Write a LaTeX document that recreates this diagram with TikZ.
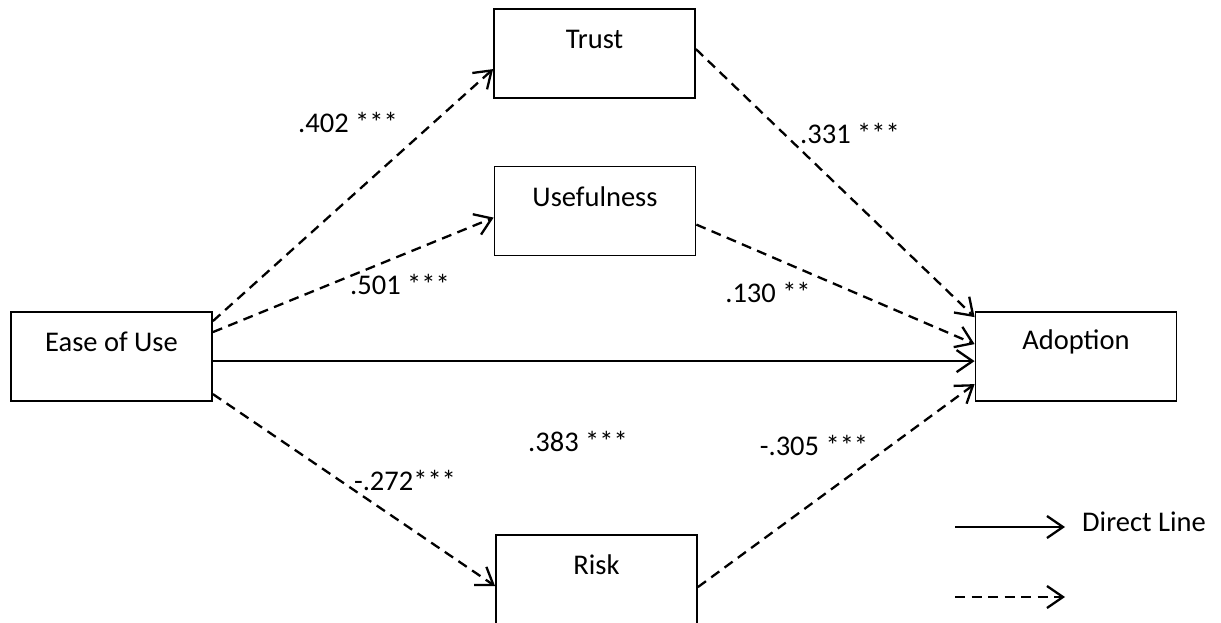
\documentclass[tikz,border=0pt]{standalone}
\usepackage{fontspec}
\setmainfont{Carlito}
\usetikzlibrary{arrows.meta,calc}
\begin{document}
\begin{tikzpicture}[x=1pt,y=-1pt,
  box/.style={draw, line width=1.8pt, minimum width=201pt, minimum height=89pt, inner sep=0pt},
  lbl/.style={font=\fontsize{28.5}{34}\selectfont, inner sep=0pt},
  boxlbl/.style={lbl, anchor=center, yshift=-31pt},
  conn/.style={line width=2.3pt, -{Straight Barb[length=16pt,width=22pt,line width=2.3pt]}},
  dsh/.style={conn, dash pattern=on 10pt off 6.5pt},
]
\useasboundingbox (0,0) rectangle (1221,623);

\node[box, label={[boxlbl]north:Ease of Use}] (ease) at (111.5,356.5) {};
\node[box, label={[boxlbl]north:Adoption}] (adopt) at (1076,356.5) {};
\node[box, label={[boxlbl]north:Trust}] (trust) at (594.5,53.5) {};
\node[box, label={[boxlbl]north:Usefulness}] (use) at (595,211) {};
\node[box, minimum height=92pt, label={[boxlbl]north:Risk}] (risk) at (596.5,581) {};

% Ease of Use -> mediators
\draw[dsh] ($(ease.north east)+(0,10)$) -- ($(trust.north west)+(0,61)$);
\draw[dsh] ($(ease.north east)+(0,21)$) -- ($(use.north west)+(0,52)$);
\draw[conn] ($(ease.north east)+(0,50)$) -- ($(adopt.north west)+(0,50)$);
\draw[dsh] ($(ease.north east)+(0,83)$) -- ($(risk.north west)+(0,52)$);

% mediators -> Adoption
\draw[dsh] ($(trust.north east)+(0,41)$) -- ($(adopt.north west)+(0,6)$);
\draw[dsh] ($(use.north east)+(0,59)$) -- ($(adopt.north west)+(0,33)$);
\draw[dsh] ($(risk.north east)+(0,53)$) -- ($(adopt.north west)+(0,73)$);

% coefficients
\node[lbl] (l402) at (348,122) {.402 ***};
\node[lbl] (l501) at (400,284) {.501 ***};
\node[lbl] (l383) at (578,441) {.383 ***};
\node[lbl] (l272) at (405,480) {-.272***};
\node[lbl] (l331) at (850,133) {.331 ***};
\node[lbl] (l130) at (768,292) {.130 **};
\node[lbl] (l305) at (814,445) {-.305 ***};

% legend
\coordinate (lg1a) at (955,527);
\coordinate (lg1b) at (1065,527);
\coordinate (lg2a) at (955,597);
\coordinate (lg2b) at (1065,597);
\draw[conn] (lg1a) -- (lg1b);
\draw[dsh] (lg2a) -- (lg2b);
\node[lbl, anchor=west] (lgtext) at (1082,522) {Direct Line};
\end{tikzpicture}
\end{document}
